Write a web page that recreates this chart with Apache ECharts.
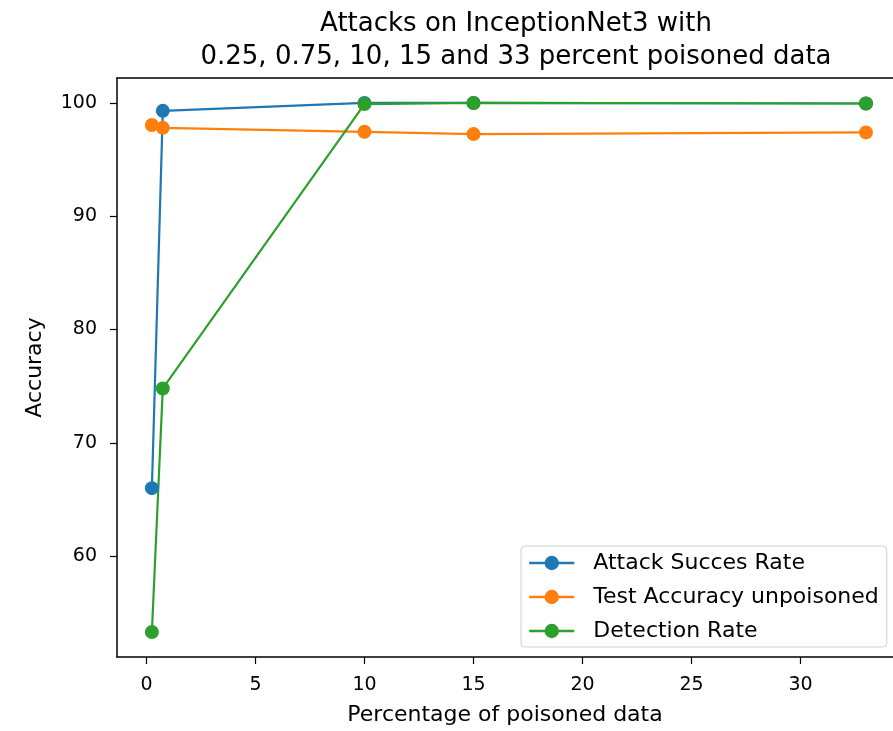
<!DOCTYPE html>
<html>
<head>
<meta charset="utf-8">
<script src="https://cdn.jsdelivr.net/npm/echarts@6/dist/echarts.min.js"></script>
<style>html,body{margin:0;padding:0;background:#fff;}#c{width:893px;height:731px;}</style>
</head>
<body>
<div id="c"></div>
<script>
const percentages = [0.25, 0.75, 10, 15, 33];
const attackSuccess = [66.0, 99.3, 100.0, 100.0, 99.95];
const testAccuracy = [98.05, 97.8, 97.45, 97.25, 97.4];
const detectionRate = [53.3, 74.8, 99.9, 100.0, 99.95];
const xTicks = [0, 5, 10, 15, 20, 25, 30];
const yTicks = [60, 70, 80, 90, 100];
const seriesNames = ['Attack Succes Rate', 'Test Accuracy unpoisoned', 'Detection Rate'];
const colors = ['#1f77b4', '#ff7f0e', '#2ca02c'];

const FONT = 'DejaVu Sans';
const chart = echarts.init(document.getElementById('c'), null, {renderer: 'canvas'});

function mk(name, vals, color) {
  return {
    name: name, type: 'line',
    data: percentages.map((p, i) => [p, vals[i]]),
    symbol: 'circle', symbolSize: 14,
    lineStyle: {width: 2.2, color: color},
    itemStyle: {color: color},
    emphasis: {disabled: true},
    animation: false
  };
}

chart.setOption({
  animation: false,
  backgroundColor: '#fff',
  title: {
    text: 'Attacks on InceptionNet3 with\n0.25, 0.75, 10, 15 and 33 percent poisoned data',
    left: 511, top: 3, textAlign: 'center',
    textStyle: {fontFamily: FONT, fontSize: 26, fontWeight: 'normal', color: '#000', lineHeight: 33}
  },
  legend: {
    orient: 'vertical', left: 521, top: 546,
    data: seriesNames,
    itemWidth: 45, itemHeight: 18, itemGap: 12,
    padding: [6, 8, 5, 7],
    lineStyle: {width: 2.5},
    backgroundColor: '#fff', borderColor: '#d0d0d0', borderWidth: 1, borderRadius: 4,
    textStyle: {fontFamily: FONT, fontSize: 22, color: '#000', padding: [0, 0, 0, 14]}
  },
  grid: {left: 117, right: 0, top: 78, bottom: 69, containLabel: false},
  xAxis: [{
    type: 'value', min: -1.35, max: 34.24, position: 'bottom',
    name: 'Percentage of poisoned data', nameLocation: 'middle', nameGap: 47,
    nameTextStyle: {fontFamily: FONT, fontSize: 22, color: '#000'},
    axisLine: {show: true, onZero: false, lineStyle: {color: '#000', width: 1.5}},
    axisTick: {show: true, length: 7, customValues: xTicks, lineStyle: {color: '#000', width: 1.2}},
    axisLabel: {show: true, customValues: xTicks, fontFamily: FONT, fontSize: 19, color: '#000', margin: 19},
    splitLine: {show: false}
  }, {
    type: 'value', min: -1.35, max: 34.24, position: 'top',
    axisLine: {show: true, onZero: false, lineStyle: {color: '#000', width: 1.5}},
    axisTick: {show: false}, axisLabel: {show: false}, splitLine: {show: false}
  }],
  yAxis: [{
    type: 'value', min: 51.1, max: 102.2,
    name: 'Accuracy', nameLocation: 'middle', nameGap: 71, nameRotate: 90,
    nameTextStyle: {fontFamily: FONT, fontSize: 22, color: '#000'},
    axisLine: {show: true, onZero: false, lineStyle: {color: '#000', width: 1.5}},
    axisTick: {show: true, length: 7, customValues: yTicks, lineStyle: {color: '#000', width: 1.2}},
    axisLabel: {show: true, customValues: yTicks, fontFamily: FONT, fontSize: 19, color: '#000', margin: 20},
    splitLine: {show: false}
  }],
  series: [
    mk(seriesNames[0], attackSuccess, colors[0]),
    mk(seriesNames[1], testAccuracy, colors[1]),
    mk(seriesNames[2], detectionRate, colors[2])
  ]
});
</script>
</body>
</html>
